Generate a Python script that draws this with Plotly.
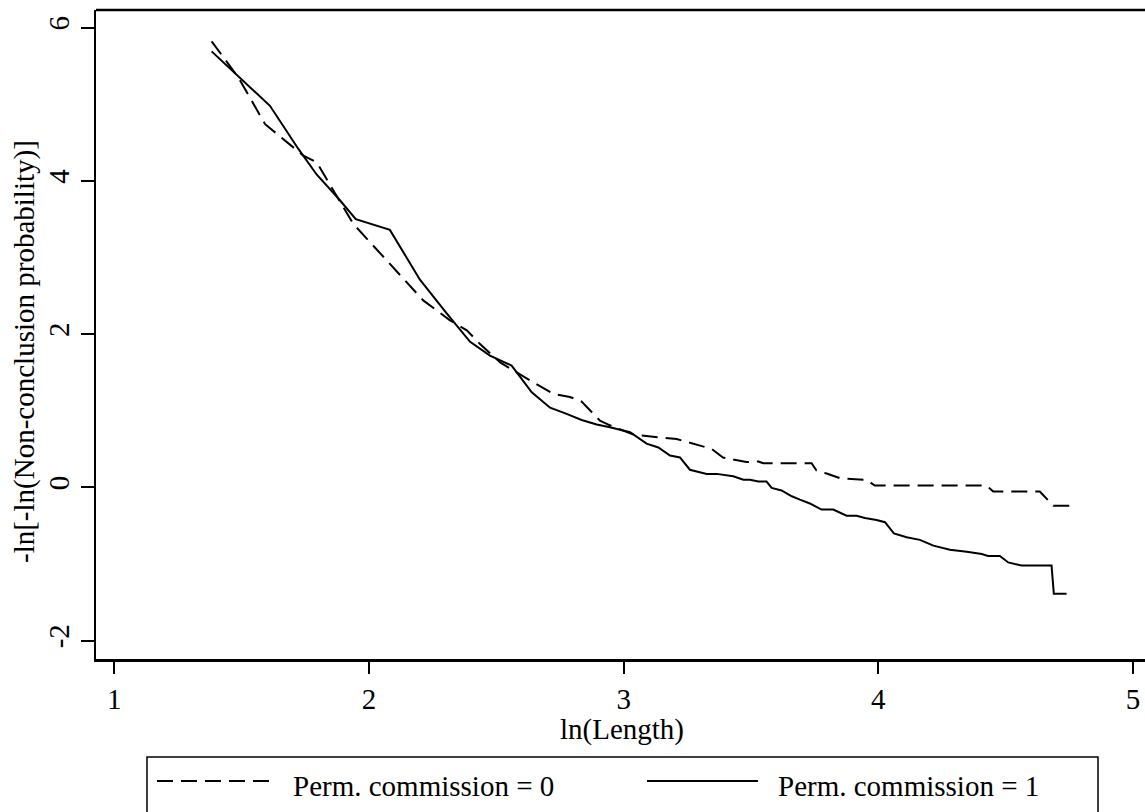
import plotly.graph_objects as go

# Data
x_comm0 = [1.382, 1.487, 1.592, 1.742, 1.795, 1.938, 2.213, 2.318, 2.384, 2.436, 2.515,
           2.606, 2.645, 2.724, 2.789, 2.835, 2.907, 2.946, 3.038, 3.143, 3.208, 3.300,
           3.346, 3.390, 3.482, 3.529, 3.548, 3.738, 3.757, 3.797, 3.849, 3.954, 3.986,
           4.425, 4.451, 4.634, 4.687, 4.778]
y_comm0 = [5.82, 5.35, 4.74, 4.33, 4.24, 3.44, 2.44, 2.18, 2.05, 1.87, 1.63,
           1.44, 1.37, 1.22, 1.18, 1.12, 0.87, 0.81, 0.69, 0.65, 0.63, 0.545,
           0.50, 0.39, 0.33, 0.337, 0.315, 0.315, 0.22, 0.18, 0.12, 0.098, 0.023,
           0.023, -0.055, -0.055, -0.24, -0.24]

x_comm1 = [1.382, 1.611, 1.722, 1.795, 1.880, 1.948, 2.082, 2.200, 2.305, 2.397, 2.475,
           2.560, 2.639, 2.711, 2.776, 2.835, 2.894, 2.946, 3.025, 3.090, 3.136, 3.182,
           3.221, 3.260, 3.326, 3.365, 3.430, 3.470, 3.496, 3.529, 3.561, 3.581, 3.620,
           3.660, 3.692, 3.731, 3.777, 3.823, 3.875, 3.915, 3.947, 3.993, 4.026, 4.061,
           4.111, 4.163, 4.216, 4.281, 4.347, 4.406, 4.431, 4.477, 4.510, 4.562, 4.680,
           4.689, 4.739]
y_comm1 = [5.69, 4.98, 4.42, 4.08, 3.77, 3.50, 3.36, 2.71, 2.27, 1.90, 1.72,
           1.59, 1.24, 1.04, 0.96, 0.88, 0.82, 0.785, 0.72, 0.57, 0.52, 0.415,
           0.39, 0.23, 0.176, 0.176, 0.145, 0.10, 0.098, 0.076, 0.076, -0.007, -0.04,
           -0.116, -0.16, -0.21, -0.29, -0.29, -0.37, -0.37, -0.40, -0.425, -0.455, -0.60,
           -0.65, -0.685, -0.76, -0.815, -0.84, -0.87, -0.895, -0.895, -0.98, -1.02, -1.02,
           -1.39, -1.39]

x_ticks = [1, 2, 3, 4, 5]
y_ticks = [-2, 0, 2, 4, 6]
series_names = ["Perm. commission = 0", "Perm. commission = 1"]
x_title = "ln(Length)"
y_title = "-ln[-ln(Non-conclusion probability)]"

FONT = "Liberation Serif"
FS = 29
W, H = 1145, 812
L, R, T, B = 96, 0, 10, 153
PW = W - L - R
PH = H - T - B


def px(x):
    return (x - L) / PW


def py(y):
    return (H - B - y) / PH


fig = go.Figure()
fig.add_trace(go.Scatter(x=x_comm0, y=y_comm0, mode="lines", name=series_names[0],
                         line=dict(color="black", width=2, dash="16px,8px")))
fig.add_trace(go.Scatter(x=x_comm1, y=y_comm1, mode="lines", name=series_names[1],
                         line=dict(color="black", width=2)))

shapes = [
    # top border
    dict(type="line", xref="paper", yref="paper", x0=0, x1=1, y0=1, y1=1,
         line=dict(color="black", width=2.5)),
    # legend box
    dict(type="rect", xref="paper", yref="paper", x0=px(147), x1=px(1098),
         y0=py(757), y1=py(830), line=dict(color="black", width=1.5)),
    # legend samples
    dict(type="line", xref="paper", yref="paper", x0=px(157), x1=px(273),
         y0=py(781), y1=py(781), line=dict(color="black", width=2, dash="16px,8px")),
    dict(type="line", xref="paper", yref="paper", x0=px(647), x1=px(758),
         y0=py(781), y1=py(781), line=dict(color="black", width=2)),
]

annotations = [
    dict(text=series_names[0], xref="paper", yref="paper", x=px(291), y=py(786),
         xanchor="left", yanchor="middle", showarrow=False,
         font=dict(family=FONT, size=FS, color="black")),
    dict(text=series_names[1], xref="paper", yref="paper", x=px(776), y=py(786),
         xanchor="left", yanchor="middle", showarrow=False,
         font=dict(family=FONT, size=FS, color="black")),
    dict(text=x_title, xref="paper", yref="paper", x=px(622), y=py(730),
         xanchor="center", yanchor="middle", showarrow=False,
         font=dict(family=FONT, size=FS, color="black")),
    dict(text=y_title, xref="paper", yref="paper", x=px(24), y=py(352),
         xanchor="center", yanchor="middle", showarrow=False, textangle=-90,
         font=dict(family=FONT, size=FS, color="black")),
]

fig.update_layout(
    width=W, height=H,
    margin=dict(l=L, r=R, t=T, b=B, pad=0),
    paper_bgcolor="white", plot_bgcolor="white",
    showlegend=False,
    font=dict(family=FONT, size=FS, color="black"),
    shapes=shapes,
    annotations=annotations,
    xaxis=dict(range=[0.928, 5.047], tickvals=x_ticks, ticktext=[str(v) for v in x_ticks],
               showgrid=False, zeroline=False, showline=True, linecolor="black",
               linewidth=2.5, ticks="outside", ticklen=12, tickwidth=1.5,
               tickcolor="black", tickfont=dict(family=FONT, size=FS)),
    yaxis=dict(range=[-2.24, 6.23], tickvals=y_ticks, ticktext=[str(v) for v in y_ticks],
               showgrid=False, zeroline=False, showline=True, linecolor="black",
               linewidth=2, ticks="outside", ticklen=13, tickwidth=1.5,
               tickcolor="black", tickangle=-90, tickfont=dict(family=FONT, size=FS)),
)

fig.write_html("out.html")
